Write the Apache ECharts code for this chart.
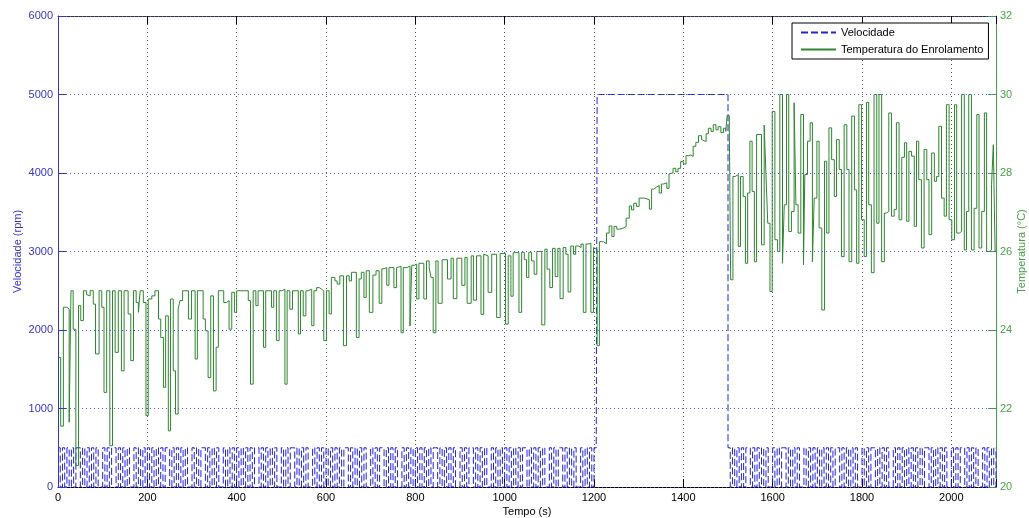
<!DOCTYPE html>
<html>
<head>
<meta charset="utf-8">
<script src="https://cdn.jsdelivr.net/npm/echarts@6/dist/echarts.min.js"></script>
<style>
html,body{margin:0;padding:0;background:#fff;overflow:hidden;}
#chart{width:1029px;height:518px;}
</style>
</head>
<body>
<div id="chart"></div>
<script>
// ---- data ----
const xTicks = [0, 200, 400, 600, 800, 1000, 1200, 1400, 1600, 1800, 2000];
const seriesNames = ['Velocidade', 'Temperatura do Enrolamento'];

// Velocity (rpm). Low-speed phases sampled every velStep seconds.
const velStep = 5;
const velPhaseA = [ // t = 0 .. 1205 s
  500,0,500,0,500,0,500,0,500,500,0,500,0,500,0,500,0,500,0,0,
  500,0,500,0,500,500,0,500,0,500,0,500,0,0,500,0,500,0,500,0,
  500,0,500,0,500,0,500,0,500,500,0,500,0,500,0,500,0,500,0,0,
  500,0,500,0,500,500,0,500,0,500,0,500,0,0,500,0,500,0,500,0,
  500,0,500,0,500,0,500,0,500,500,0,500,0,500,0,500,0,500,0,0,
  500,0,500,0,500,500,0,500,0,500,0,500,0,0,500,0,500,0,500,0,
  500,0,500,0,500,0,500,0,500,500,0,500,0,500,0,500,0,500,0,0,
  500,0,500,0,500,500,0,500,0,500,0,500,0,0,500,0,500,0,500,0,
  500,0,500,0,500,0,500,0,500,500,0,500,0,500,0,500,0,500,0,0,
  500,0,500,0,500,500,0,500,0,500,0,500,0,0,500,0,500,0,500,0,
  500,0,500,0,500,0,500,0,500,500,0,500,0,500,0,500,0,500,0,0,
  500,0,500,0,500,500,0,500,0,500,0,500,0,0,500,0,500,0,500,0,
  500,500
];
const velHighStart = 1207;   // s
const velHighValue = 5000;   // rpm
const velPhaseBStart = 1500; // s
const velPhaseB = [ // t = 1500 .. 2100 s
  500,0,500,0,500,0,500,0,500,500,0,500,0,500,0,500,0,500,0,0,
  500,0,500,0,500,500,0,500,0,500,0,500,0,0,500,0,500,0,500,0,
  500,0,500,0,500,0,500,0,500,500,0,500,0,500,0,500,0,500,0,0,
  500,0,500,0,500,500,0,500,0,500,0,500,0,0,500,0,500,0,500,0,
  500,0,500,0,500,0,500,0,500,500,0,500,0,500,0,500,0,500,0,0,
  500,0,500,0,500,500,0,500,0,500,0,500,0,0,500,0,500,0,500,0,
  500
];

// Winding temperature (°C): times (s) where the value changes, and the values
const tempTimes = [
  0,6,12,20,25,29,34,40,46,51,57,64,68,72,79,84,92,98,103,109,
  116,122,128,135,142,148,157,163,169,175,180,184,191,197,202,210,217,225,230,236,
  241,247,252,258,263,269,273,279,292,299,307,312,325,330,336,342,348,354,359,371,
  377,383,389,395,400,426,431,437,443,448,460,465,478,483,489,495,501,508,513,519,
  525,538,543,549,555,560,568,573,579,585,590,595,601,607,612,620,625,631,639,646,
  652,657,668,674,679,685,690,697,705,712,719,725,730,736,741,752,758,762,768,773,
  781,788,792,798,803,808,819,825,831,835,840,846,851,860,872,880,885,893,904,911,
  916,925,930,937,947,953,957,963,971,982,990,1002,1008,1014,1019,1032,1038,1044,1049,1054,
  1060,1066,1072,1083,1090,1095,1101,1107,1113,1119,1124,1131,1137,1142,1148,1154,1159,1165,1171,1176,
  1182,1187,1193,1199,1203,1207,1212,1221,1228,1234,1240,1245,1251,1258,1266,1272,1279,1284,1289,1295,
  1301,1313,1324,1329,1334,1340,1346,1351,1356,1363,1368,1371,1377,1383,1388,1394,1400,1406,1411,1417,
  1422,1428,1434,1441,1445,1451,1456,1462,1467,1473,1478,1484,1490,1495,1498,1503,1506,1511,1516,1523,
  1528,1534,1539,1544,1549,1554,1559,1564,1575,1581,1585,1589,1594,1599,1605,1611,1616,1622,1626,1631,
  1636,1642,1648,1652,1657,1663,1669,1672,1678,1684,1689,1693,1699,1704,1710,1716,1721,1726,1732,1738,
  1743,1749,1754,1760,1766,1771,1777,1783,1788,1793,1799,1805,1810,1815,1821,1827,1833,1838,1844,1850,
  1855,1860,1866,1872,1877,1883,1889,1895,1900,1905,1911,1917,1922,1927,1933,1939,1945,1950,1956,1962,
  1967,1972,1978,1984,1989,1995,2001,2007,2012,2018,2023,2029,2034,2039,2045,2051,2057,2062,2068,2074,
  2079,2085,2090,2094,2098,2100
];
const tempValues = [
  23.3,21.55,24.58,24.53,21.65,25.0,24.02,20.55,24.62,24.24,25.0,24.9,24.87,25.0,24.66,23.39,25.0,24.58,22.41,25.0,
  21.05,25.0,23.43,25.0,22.96,25.0,24.41,23.22,25.0,24.7,24.45,25.0,24.7,21.82,24.79,24.87,25.0,24.28,23.81,22.54,
  24.36,21.43,24.79,22.96,21.86,24.53,24.75,25.0,24.28,25.0,23.26,25.0,24.28,23.98,22.79,24.87,22.45,23.56,25.0,24.7,
  24.75,24.02,24.96,24.45,25.0,24.75,22.62,25.0,24.62,25.0,23.56,25.0,24.58,25.0,23.73,25.0,25.04,22.62,25.0,24.53,
  25.0,23.9,25.0,24.36,25.0,25.04,24.11,25.0,25.08,25.04,25.0,23.73,25.0,24.41,25.34,25.25,25.17,25.38,23.6,25.38,
  25.25,25.47,23.81,25.3,25.47,24.83,25.51,24.45,25.4,25.51,24.68,25.56,25.59,25.14,25.59,25.08,25.59,25.62,23.93,25.59,
  25.63,24.1,25.65,25.68,24.79,25.7,24.79,25.76,25.59,25.34,23.93,25.76,24.68,25.79,25.3,25.83,24.8,25.83,25.14,25.85,
  24.68,25.89,24.76,25.89,24.4,25.93,25.89,24.96,25.93,24.32,25.95,24.15,25.89,24.86,25.97,24.45,25.98,25.79,25.34,25.98,
  25.76,25.42,26.0,24.13,26.06,25.55,25.08,26.08,25.36,26.08,24.8,26.1,25.93,24.97,26.14,25.93,26.14,26.1,26.19,24.45,
  26.19,26.21,24.45,26.1,26.05,23.6,26.25,26.2,26.47,26.65,26.38,26.64,26.57,26.6,26.64,26.85,27.16,27.06,27.23,27.15,
  27.36,27.32,27.08,27.59,27.64,27.68,27.49,27.72,27.75,27.61,27.98,28.0,28.12,28.03,28.12,28.29,28.23,28.44,28.46,28.42,
  28.68,28.78,28.95,28.85,28.8,29.0,29.14,29.06,29.23,29.1,29.18,29.03,29.14,29.06,29.46,29.1,25.28,27.91,27.96,26.13,
  27.91,27.4,25.7,27.49,28.81,27.53,25.74,28.98,26.17,29.22,27.96,26.72,24.98,29.57,26.3,26.0,30.0,25.7,27.19,30.0,
  26.51,27.02,29.79,27.19,26.47,29.49,25.66,27.96,28.81,29.28,25.74,27.36,28.81,26.6,24.51,28.3,26.47,29.15,28.34,27.4,
  28.85,28.09,25.87,29.23,28.09,25.74,29.45,27.57,25.7,29.74,26.81,25.87,29.8,27.19,25.46,30.0,26.72,30.0,25.74,26.98,
  27.02,29.53,26.9,27.07,29.28,26.81,28.4,28.77,26.77,28.55,28.43,26.64,28.81,27.83,26.09,28.6,27.83,26.43,28.51,27.79,
  27.91,29.19,27.36,26.9,29.74,26.81,26.3,29.74,26.47,26.51,30.0,26.04,27.02,30.0,26.04,27.1,29.49,26.09,27.02,29.53,
  26.0,26.04,27.7,28.72,26.0,26.0
];

// ---- chart ----
const FONT = '"Liberation Sans", Arial, Helvetica, sans-serif';
const BLUE = '#2424d0';
const BLUE_AXIS = '#3535c0';
const GREEN = '#2f862f';
const GREEN_AXIS = '#47a047';

const velocityData = []
  .concat(velPhaseA.map((v, i) => [i * velStep, v]))
  .concat([[velHighStart, velHighValue]])
  .concat(velPhaseB.map((v, i) => [velPhaseBStart + i * velStep, v]));
const tempData = tempTimes.map((t, i) => [t, tempValues[i]]);

const chart = echarts.init(document.getElementById('chart'), null, {renderer: 'canvas'});
chart.setOption({
  animation: false,
  backgroundColor: '#ffffff',
  textStyle: {fontFamily: FONT},
  grid: {left: 58, right: 33, top: 16, bottom: 31, containLabel: false, outerBoundsMode: 'none'},
  legend: {
    orient: 'vertical',
    left: 792, top: 23,
    padding: [4, 5, 4, 8],
    itemWidth: 35, itemHeight: 12, itemGap: 6,
    borderColor: '#000', borderWidth: 1, backgroundColor: '#fff', borderRadius: 0,
    itemStyle: {color: 'rgba(0,0,0,0)', borderWidth: 0, opacity: 0},
    textStyle: {fontSize: 11, color: '#000', fontFamily: FONT},
    data: seriesNames
  },
  xAxis: [
    {
      type: 'value', min: xTicks[0], max: 2100, interval: 200, position: 'bottom',
      name: 'Tempo (s)', nameLocation: 'middle', nameGap: 19, nameMoveOverlap: false,
      nameTextStyle: {fontSize: 11, color: '#000', fontFamily: FONT},
      axisLine: {onZero: false, lineStyle: {color: '#000', width: 1}},
      axisTick: {inside: true, length: 8, lineStyle: {color: '#000'}},
      axisLabel: {fontSize: 11, color: '#000', margin: 5, fontFamily: FONT,
        formatter: v => (xTicks.indexOf(v) >= 0 ? String(v) : '')},
      splitLine: {show: true, lineStyle: {color: '#555', width: 1, type: [1, 3]}}
    },
    {
      type: 'value', min: xTicks[0], max: 2100, interval: 200, position: 'top',
      axisLine: {onZero: false, lineStyle: {color: '#333', width: 1}},
      axisTick: {inside: true, length: 8, lineStyle: {color: '#000'}},
      axisLabel: {show: false},
      splitLine: {show: false}
    }
  ],
  yAxis: [
    {
      type: 'value', min: 0, max: 6000, interval: 1000, position: 'left', z: 10,
      name: 'Velocidade (rpm)', nameLocation: 'middle', nameGap: 35, nameMoveOverlap: false,
      nameTextStyle: {fontSize: 11, color: BLUE_AXIS, fontFamily: FONT},
      axisLine: {show: true, onZero: false, lineStyle: {color: BLUE_AXIS, width: 1}},
      axisTick: {show: true, inside: true, length: 8, lineStyle: {color: BLUE_AXIS}},
      axisLabel: {fontSize: 11, color: BLUE_AXIS, margin: 5, fontFamily: FONT, formatter: v => String(v)},
      splitLine: {show: true, lineStyle: {color: '#5a5ac8', width: 1, type: [1, 3]}}
    },
    {
      type: 'value', min: 20, max: 32, interval: 2, position: 'right',
      name: 'Temperatura (°C)', nameLocation: 'middle', nameGap: 20, nameMoveOverlap: false,
      nameTextStyle: {fontSize: 11, color: GREEN_AXIS, fontFamily: FONT},
      axisLine: {show: true, onZero: false, lineStyle: {color: GREEN_AXIS, width: 1}},
      axisTick: {show: true, inside: true, length: 8, lineStyle: {color: GREEN_AXIS}},
      axisLabel: {fontSize: 11, color: GREEN_AXIS, margin: 4, fontFamily: FONT, formatter: v => String(v)},
      splitLine: {show: false}
    }
  ],
  series: [
    {
      name: seriesNames[0], type: 'line', xAxisIndex: 0, yAxisIndex: 0,
      step: 'end', symbol: 'none', showSymbol: false,
      itemStyle: {color: BLUE},
      lineStyle: {color: BLUE, width: 1, type: [7, 3]},
      data: velocityData, z: 2
    },
    {
      name: seriesNames[1], type: 'line', xAxisIndex: 0, yAxisIndex: 1,
      step: 'end', symbol: 'none', showSymbol: false,
      itemStyle: {color: GREEN},
      lineStyle: {color: GREEN, width: 1},
      data: tempData, z: 3
    }
  ]
});
</script>
</body>
</html>
